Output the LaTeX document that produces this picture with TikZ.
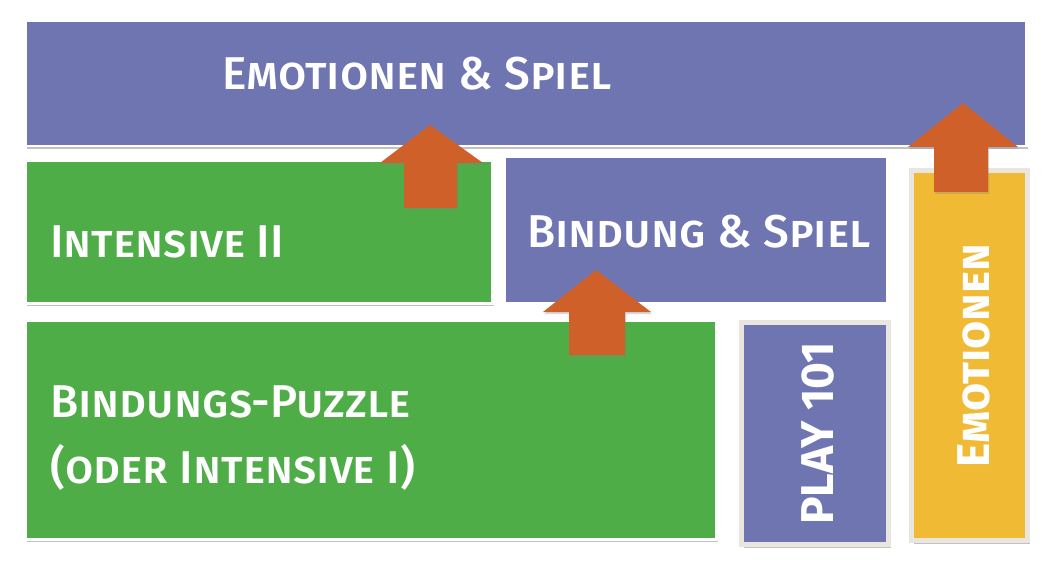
\documentclass[tikz,border=0pt]{standalone}
\usepackage{fontspec}
\setmainfont{Fira Sans}[UprightFont=* Medium, BoldFont=* Bold]
\usetikzlibrary{shadows, positioning, calc}
\definecolor{lila}{RGB}{111,117,176}
\definecolor{gruen}{RGB}{78,173,70}
\definecolor{gelb}{RGB}{240,186,52}
\definecolor{pfeilfarbe}{RGB}{208,96,42}
\definecolor{rand}{RGB}{232,230,222}

\begin{document}
\begin{tikzpicture}[x=1pt,y=-1pt,
    box/.style={rectangle, inner sep=0pt, anchor=north west, draw=white, line width=2.5pt,
        drop shadow={shadow xshift=2pt, shadow yshift=-3pt, opacity=.35, fill=black!70}},
    randbox/.style={box, draw=rand, line width=5pt},
    lbl/.style={text=white, inner sep=0pt, font=\fontsize{46}{66}\selectfont\scshape},
    vlbl/.style={lbl, rotate=90, anchor=base west, font=\fontsize{46}{66}\selectfont\bfseries},
    pfeil/.style={fill=pfeilfarbe, drop shadow={shadow xshift=1pt, shadow yshift=-2pt, opacity=.3}}]
    \useasboundingbox (0,0) rectangle (1058,580);
    %kaesten
    \node[box, fill=lila, minimum width=1001pt, minimum height=125pt] (spiel) at (24,20) {};
    \node[box, fill=gruen, minimum width=467pt, minimum height=142pt] (intens) at (24,160) {};
    \node[rectangle, inner sep=0pt, anchor=north west, fill=lila, minimum width=380pt, minimum height=144pt] (bindung) at (506,158) {};
    \node[box, fill=gruen, minimum width=691pt, minimum height=219pt] (puzzle) at (24,319) {};
    \node[randbox, fill=lila, minimum width=147pt, minimum height=222pt] (play) at (739,320) {};
    \node[randbox, fill=gelb, minimum width=116pt, minimum height=370pt] (emo) at (909,168) {};
    %beschriftungen
    \node[lbl, anchor=base west] (spiellbl) at (222,90) {Emotionen \& Spiel};
    \node[lbl, anchor=base west] (intenslbl) at (50,258) {Intensive II};
    \node[lbl, anchor=base west] (bindunglbl) at (527,248) {Bindung \& Spiel};
    \node[lbl, anchor=base west] (puzzlelbl) at (50,417) {Bindungs-Puzzle};
    \node[lbl, anchor=base west] (oderlbl) at (50,483) {(oder Intensive I)};
    \node[vlbl] (playlbl) at (833,525) {PLAY 101};
    \node[vlbl, font=\fontsize{46}{66}\selectfont\bfseries\scshape] (emolbl) at (989,468) {Emotionen};
    %pfeile
    \fill[pfeil] (430,125) -- (483,163) -- (457,163) -- (457,208) -- (404,208) -- (404,163) -- (380,163) -- cycle;
    \fill[pfeil] (596,270) -- (651,312) -- (625,312) -- (625,355) -- (569,355) -- (569,312) -- (543,312) -- cycle;
    \fill[pfeil] (963,103) -- (1018,147) -- (988,147) -- (988,192) -- (934,192) -- (934,147) -- (908,147) -- cycle;
\end{tikzpicture}
\end{document}
